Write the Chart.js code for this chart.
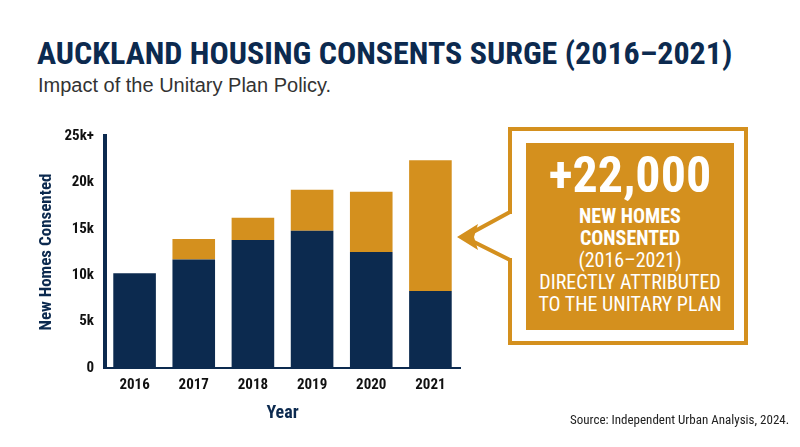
<!DOCTYPE html>
<html><head><meta charset="utf-8">
<script src="https://cdn.jsdelivr.net/npm/chart.js@4"></script>
<style>
body{margin:0;width:800px;height:447px;background:#fff;position:relative;overflow:hidden;font-family:"Liberation Sans Narrow","Roboto Condensed","DejaVu Sans Condensed",sans-serif}
#t{position:absolute;left:37px;top:34px;font-size:32px;font-weight:bold;color:#0c2a4f}
#s{position:absolute;left:38px;top:74px;font-size:20px;color:#333;font-family:"Liberation Sans",Arial,sans-serif}
#c{position:absolute;left:0;top:0}
#src{position:absolute;left:570px;top:412px;font-size:13px;color:#222}
#box{position:absolute;left:508px;top:127px;width:232px;height:210px;border:4px solid #d4901e;background:#fff}
#in{position:absolute;left:14px;top:12px;right:10px;bottom:11px;background:#d4901e;color:#fff;text-align:center}
#big{font-size:50px;font-weight:bold;margin-top:6px;line-height:52px}
.b{font-size:20px;font-weight:bold;line-height:22px}
.r{font-size:20px;line-height:22px}
svg{position:absolute;left:0;top:0}
</style></head><body>
<div id="t">AUCKLAND HOUSING CONSENTS SURGE (2016–2021)</div>
<div id="s">Impact of the Unitary Plan Policy.</div>
<canvas id="c" width="800" height="447"></canvas>
<div id="box"><div id="in">
<div id="big">+22,000</div>
<div class="b" style="margin-top:4px">NEW HOMES</div>
<div class="b">CONSENTED</div>
<div class="r">(2016–2021)</div>
<div class="r">DIRECTLY ATTRIBUTED</div>
<div class="r">TO THE UNITARY PLAN</div>
</div></div>
<svg width="800" height="447"><rect x="504" y="214" width="10" height="44" fill="#fff"/>
<polyline points="510,212 464,237 510,260" fill="none" stroke="#d4901e" stroke-width="4"/>
<polygon points="457,237 478,224 474,237 478,250" fill="#d4901e"/></svg>
<div id="src">Source: Independent Urban Analysis, 2024.</div>
<script>
const years=["2016","2017","2018","2019","2020","2021"];
const baseline=[10200,11700,13800,14800,12500,8300];
const unitary=[0,2200,2400,4400,6500,14100];
const yTicks={0:"0",5000:"5k",10000:"10k",15000:"15k",20000:"20k",25000:"25k+"};
const navy="#0c2a4f",orange="#d4901e";
Chart.defaults.font.family='"Liberation Sans Narrow","Roboto Condensed","DejaVu Sans Condensed",sans-serif';
new Chart(document.getElementById('c'),{type:'bar',
data:{labels:years,datasets:[
{data:baseline,backgroundColor:navy,barPercentage:0.72,categoryPercentage:1},
{data:unitary,backgroundColor:orange,barPercentage:0.72,categoryPercentage:1}]},
options:{responsive:false,animation:false,
layout:{padding:{left:33,right:340,top:136,bottom:19}},
plugins:{legend:{display:false},tooltip:{enabled:false}},
scales:{
x:{stacked:true,offset:true,grid:{display:false,drawTicks:false},border:{color:navy,width:2},
ticks:{color:'#111',font:{size:15,weight:'bold'},padding:8},
title:{display:true,text:'Year',color:navy,font:{size:18,weight:'bold'},padding:{top:6}},
afterFit:s=>{s.height=60}},
y:{stacked:true,min:0,max:25000,grid:{display:false},border:{color:navy,width:4},
ticks:{stepSize:5000,color:'#111',font:{size:15,weight:'bold'},callback:v=>yTicks[v]},
title:{display:true,text:'New Homes Consented',color:navy,font:{size:17,weight:'bold'}},
afterFit:s=>{s.width=72}}}}});
</script></body></html>
